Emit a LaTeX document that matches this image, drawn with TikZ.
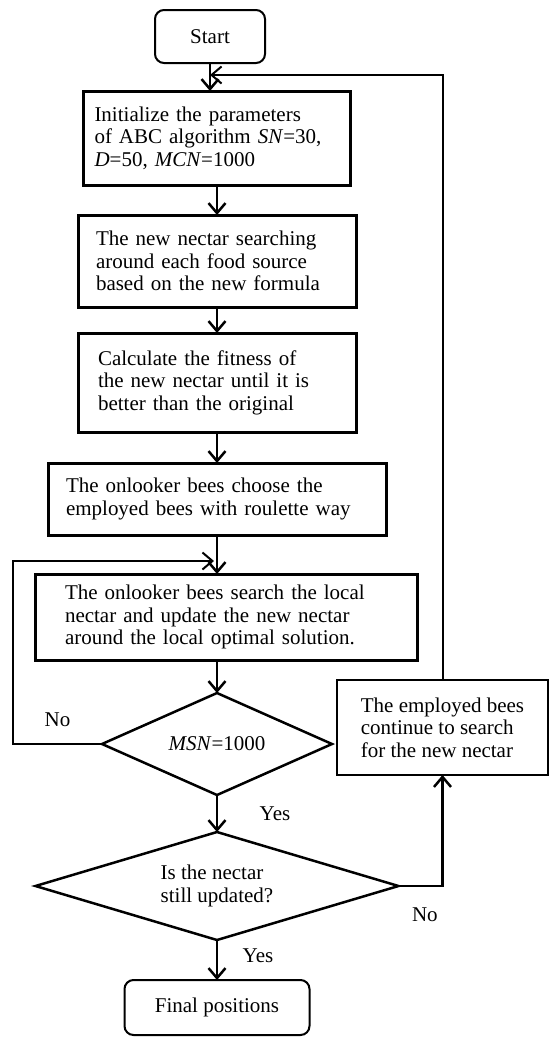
\documentclass[tikz,border=0pt]{standalone}
\usepackage{fontspec}
\setmainfont{Liberation Serif}
\usepackage{tikz}
\usetikzlibrary{
  positioning,
  arrows.meta,
  shapes.geometric
}

\begin{document}
\begin{tikzpicture}[
  x=1pt, y=1pt,
  font=\fontsize{21}{22.5}\selectfont,
  node distance=30pt,
  terminal/.style={
    rectangle,
    rounded corners=9pt,
    draw=black,
    line width=2pt,
    outer sep=0pt,
    align=center
  },
  process/.style={
    rectangle,
    draw=black,
    line width=3pt,
    outer sep=0pt,
    align=left
  },
  decision/.style={
    diamond,
    aspect=3,
    draw=black,
    line width=2.5pt,
    inner sep=0pt,
    outer sep=0pt,
    align=left
  },
  arrow/.style={
    -{Straight Barb[length=10pt,width=17pt]},
    line width=2.5pt,
    draw=black
  },
  backarrow/.style={
    -{Straight Barb[length=10pt,width=17pt]},
    line width=2pt,
    draw=black
  }
]
\useasboundingbox (0,0) rectangle (549,-1037);

% Main column
\node[terminal, minimum width=110pt, minimum height=53pt] (start) at (210,-36.5) {Start};
\node[process, below=28pt of start, xshift=7pt, minimum width=267pt, minimum height=94pt, text width=245pt] (init) {Initialize the parameters\\of ABC algorithm \textit{SN}=30,\\\textit{D}=50, \textit{MCN}=1000};
\node[process, below=30pt of init, minimum width=278pt, minimum height=92pt, text width=242pt] (search) {The new nectar searching\\around each food source\\based on the new formula};
\node[process, below=26pt of search, minimum width=278pt, minimum height=99pt, text width=238pt] (fitness) {Calculate the fitness of\\the new nectar until it is\\better than the original};
\node[process, below=31pt of fitness, minimum width=338pt, minimum height=72pt, text width=302pt] (choose) {The onlooker bees choose the\\employed bees with roulette way};
\node[process, below=39pt of choose, xshift=9pt, minimum width=382pt, minimum height=86pt, text width=322pt] (local) {The onlooker bees search the local\\nectar and update the new nectar\\around the local optimal solution.};

% Decisions
\node[decision, below=33pt of local, xshift=-9pt, minimum width=230pt, minimum height=102pt] (msn) {\textit{MSN}=1000};
\node[decision, below=37pt of msn, minimum width=363pt, minimum height=108pt] (updated) {Is the nectar\\still updated?};
\node[terminal, below=40pt of updated, minimum width=185pt, minimum height=55pt] (final) {Final positions};

% Side branch
\node[process, line width=2pt, right=5pt of msn, yshift=16.5pt, minimum width=211pt, minimum height=95pt] (employed) {The employed bees\\continue to search\\for the new nectar};

\coordinate (fbin) at (210,-75);
\coordinate (loopin) at (214,-561);

% Forward transitions
\draw[arrow] (start) -- (init.north -| start);
\draw[arrow] (init) -- (search);
\draw[arrow] (search) -- (fitness);
\draw[arrow] (fitness) -- (choose);
\draw[arrow] (choose) -- (choose.south |- local.north);
\draw[arrow] (local.south -| msn.north) -- (msn);
\draw[arrow] (msn) -- node[midway, xshift=58pt] (yes1) {Yes} (updated);
\draw[arrow] (updated) -- node[midway, xshift=41pt, yshift=4pt] (yes2) {Yes} (final);
\draw[arrow] (updated.east) -| node[pos=0.3, yshift=-29pt] (no2) {No} (employed.south);

% Loops back
\draw[backarrow] (employed.north) |- (fbin);
\draw[backarrow] (msn.west) -- node[midway, yshift=24pt] (no1) {No} ++(-89,0) |- (loopin);

\end{tikzpicture}
\end{document}
